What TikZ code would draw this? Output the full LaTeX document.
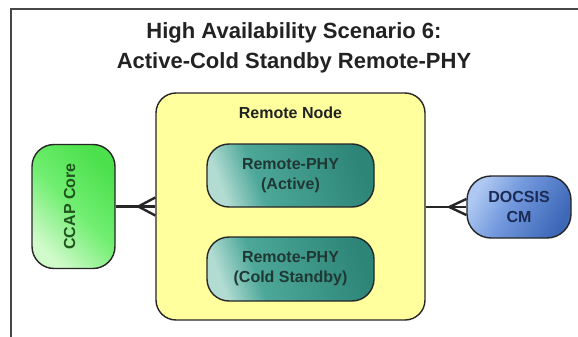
\documentclass[tikz,border=0pt]{standalone}
\usepackage{fontspec}
\setmainfont{Liberation Sans}
\usetikzlibrary{calc}
\definecolor{framegray}{HTML}{474747}
\definecolor{edgedark}{HTML}{262626}
\definecolor{nodeyellow}{HTML}{FFFF9E}
\definecolor{tealLight}{HTML}{B2DCD2}
\definecolor{tealMid}{HTML}{4EA89A}
\definecolor{tealDark}{HTML}{2C8576}
\definecolor{tealText}{HTML}{1F3833}
\definecolor{greenLight}{HTML}{D0FACA}
\definecolor{greenMid}{HTML}{70EE70}
\definecolor{greenBright}{HTML}{4CE04C}
\definecolor{greenText}{HTML}{1F551F}
\definecolor{blueLight}{HTML}{AEC8F2}
\definecolor{blueMid}{HTML}{7399DD}
\definecolor{blueDark}{HTML}{3D68B8}
\definecolor{blueText}{HTML}{1C2B55}
\definecolor{titleText}{HTML}{222222}
% gradients: the middle half (25bp..75bp) spans the filled shape
\pgfdeclarehorizontalshading{tealshade}{100bp}{color(0bp)=(tealLight); color(25bp)=(tealLight); color(38bp)=(tealMid); color(75bp)=(tealDark); color(100bp)=(tealDark)}
\pgfdeclarehorizontalshading{greenshade}{100bp}{color(0bp)=(greenLight); color(25bp)=(greenLight); color(50bp)=(greenMid); color(75bp)=(greenBright); color(100bp)=(greenBright)}
\pgfdeclarehorizontalshading{blueshade}{100bp}{color(0bp)=(blueLight); color(25bp)=(blueLight); color(45bp)=(blueMid); color(75bp)=(blueDark); color(100bp)=(blueDark)}
\begin{document}
\begin{tikzpicture}[x=1pt,y=-1pt,
  frameline/.style={draw=framegray, line width=2.2pt},
  boxbase/.style={draw=edgedark, line width=1.4pt, rounded corners=20pt, inner sep=0pt},
  lbl/.style={font=\bfseries\fontsize{16}{20}\selectfont, align=center},
  container/.style={boxbase, fill=nodeyellow},
  phybox/.style={boxbase, rounded corners=22pt, shade, shading=tealshade, shading angle=20, text=tealText, lbl},
  corebox/.style={boxbase, rounded corners=22pt, shade, shading=greenshade, shading angle=45},
  cmbox/.style={boxbase, rounded corners=24pt, shade, shading=blueshade, shading angle=-30, text=blueText, lbl},
  link/.style={draw=edgedark, line width=2.4pt}
]
\useasboundingbox (0,0) rectangle (578,337);
\fill[white] (0,0) rectangle (578,337);

% outer frame, open towards the right and bottom edges
\draw[frameline] (11,337) -- (11,9) -- (578,9);

% title
\node[font=\bfseries\fontsize{22}{30}\selectfont, align=center, text=titleText] (title) at (294,48)
  {High Availability Scenario 6:\\Active-Cold Standby Remote-PHY};

% remote node with its two PHY modules
\node[container, minimum width=269pt, minimum height=227pt] (rn) at (290.5,206.5) {};
\node[lbl, text=titleText] (rnlabel) at (290.5,113) {Remote Node};
\node[phybox, minimum width=167pt, minimum height=63pt] (active) at (290.5,175.5)
  {Remote-PHY\\(Active)};
\node[phybox, minimum width=167pt, minimum height=64pt] (standby) at (290.5,269)
  {Remote-PHY\\(Cold Standby)};

% CCAP core on the left
\node[corebox, minimum width=83pt, minimum height=124pt] (ccap) at (73.5,206.5) {};
\node[lbl, text=greenText, rotate=90] (ccaplabel) at (69.5,206.5) {CCAP Core};

% cable modem on the right
\node[cmbox, minimum width=104pt, minimum height=62pt] (cm) at (519,207) {DOCSIS\\CM};

% crow's-foot links
\coordinate (lfork) at ($(rn.west)+(-17,0)$);
\draw[link] (ccap.east) -- (lfork);
\draw[link] (lfork) -- ($(rn.west)+(0,-9)$);
\draw[link] (lfork) -- (rn.west);
\draw[link] (lfork) -- ($(rn.west)+(0,9)$);

\coordinate (rfork) at ($(cm.west)+(-17,0)$);
\draw[link] (rn.east |- cm.west) -- (rfork);
\draw[link] (rfork) -- ($(cm.west)+(0,-8)$);
\draw[link] (rfork) -- (cm.west);
\draw[link] (rfork) -- ($(cm.west)+(0,8)$);
\end{tikzpicture}
\end{document}
